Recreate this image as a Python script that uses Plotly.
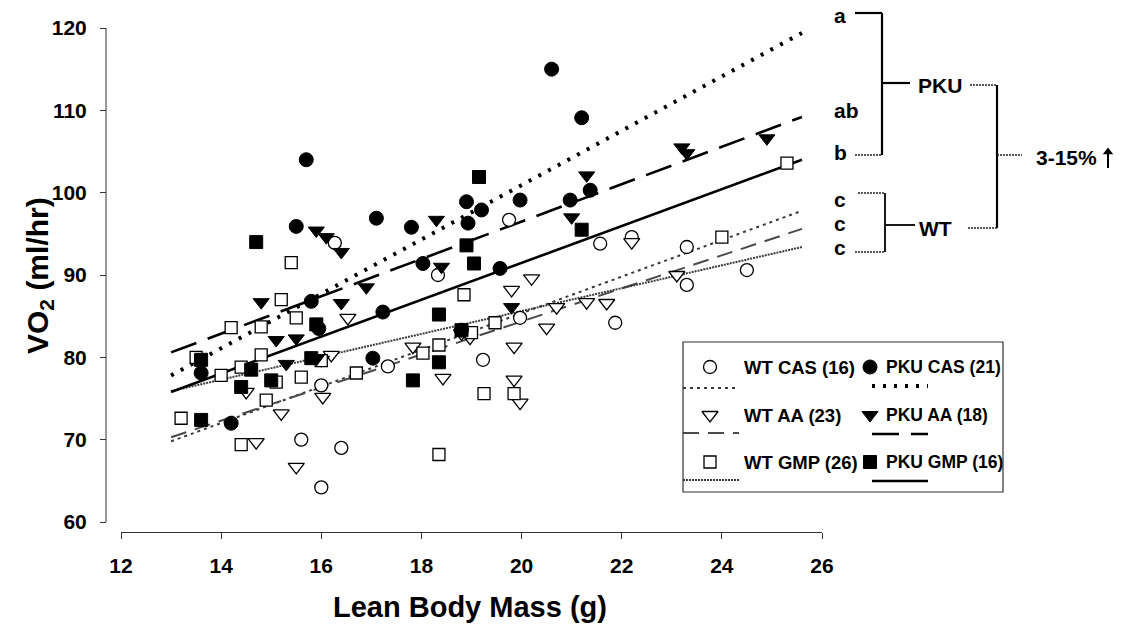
import plotly.graph_objects as go

FONT = "Liberation Sans, Arial, Helvetica, sans-serif"
W, H = 1125, 636

# ---------------- data ----------------
wt_cas_x = [16.27, 19.75, 18.33, 21.57, 19.97, 19.23, 17.33, 21.87, 22.2, 23.3, 24.5, 23.3, 15.6, 16.4, 16.0, 16.0]
wt_cas_y = [93.9, 96.7, 90.0, 93.8, 84.8, 79.7, 78.9, 84.2, 94.6, 93.4, 90.6, 88.8, 70.0, 69.0, 64.2, 76.6]

pku_cas_x = [20.6, 21.2, 15.7, 15.5, 15.8, 15.95, 17.1, 17.8, 18.9, 19.2, 18.93, 19.97, 20.97, 21.37,
             18.03, 19.57, 17.23, 17.03, 13.6, 14.2, 18.8]
pku_cas_y = [115.0, 109.1, 104.0, 95.9, 86.8, 83.5, 96.9, 95.8, 98.9, 97.9, 96.3, 99.1, 99.1, 100.3,
             91.4, 90.8, 85.5, 79.9, 78.1, 72.0, 83.3]

wt_aa_x = [20.2, 19.8, 21.3, 21.7, 20.7, 20.5, 19.85, 19.85, 19.97, 18.43, 18.97, 17.83, 16.53,
           16.03, 14.5, 14.7, 15.5, 15.2, 16.2, 16.0, 23.1, 22.2, 18.8]
wt_aa_y = [89.6, 88.2, 86.7, 86.6, 86.1, 83.6, 81.3, 77.3, 74.5, 77.5, 82.4, 81.3, 84.8,
           75.2, 75.8, 69.7, 66.7, 73.2, 80.3, 79.7, 90.0, 94.0, 82.9]

pku_aa_x = [15.9, 16.1, 16.4, 14.8, 16.4, 16.9, 15.1, 15.5, 21.3, 21.0, 18.3, 18.4, 19.8, 23.2, 23.3, 24.9, 15.3, 15.9]
pku_aa_y = [95.4, 94.6, 92.8, 86.7, 86.6, 88.5, 82.1, 82.3, 102.1, 97.0, 96.7, 91.0, 86.1, 105.5, 104.8, 106.6, 79.2, 79.8]

wt_gmp_x = [15.4, 15.2, 15.5, 14.2, 14.8, 13.5, 14.0, 14.4, 14.8, 15.1, 15.6, 14.9, 13.2, 14.4, 16.7,
            18.85, 19.47, 18.35, 18.03, 19.25, 19.85, 18.35, 24.0, 25.3, 16.0, 19.0]
wt_gmp_y = [91.5, 87.0, 84.8, 83.6, 83.7, 80.0, 77.8, 78.8, 80.3, 77.0, 77.6, 74.8, 72.6, 69.4, 78.1,
            87.6, 84.2, 81.5, 80.5, 75.6, 75.6, 68.2, 94.6, 103.6, 79.6, 83.0]

pku_gmp_x = [14.7, 19.15, 21.2, 18.9, 19.05, 18.35, 18.35, 17.83, 13.6, 13.6, 14.6, 14.4, 15.8, 18.8, 15.9, 15.0]
pku_gmp_y = [94.0, 101.9, 95.5, 93.6, 91.4, 85.2, 79.4, 77.2, 72.4, 79.7, 78.5, 76.4, 79.9, 83.3, 84.0, 77.2]

# regression lines: lean body mass span and fitted VO2 at both ends
fit_x = [13.0, 25.6]
fit_wt_cas = [69.8, 97.8]
fit_wt_aa = [70.3, 95.6]
fit_wt_gmp = [75.9, 93.4]
fit_pku_cas = [77.8, 119.4]
fit_pku_aa = [80.6, 109.2]
fit_pku_gmp = [75.8, 104.0]

x_ticks = [12, 14, 16, 18, 20, 22, 24, 26]
y_ticks = [60, 70, 80, 90, 100, 110, 120]

# ---------------- styles ----------------
line_styles = {
    "wt_cas": dict(color="#3a3a3a", width=2, dash="3px,4px"),
    "wt_aa": dict(color="#4a4a4a", width=2, dash="16px,9px"),
    "wt_gmp": dict(color="#3a3a3a", width=2, dash="2px,1px"),
    "pku_cas": dict(color="#000000", width=4, dash="3px,8px"),
    "pku_aa": dict(color="#000000", width=2.6, dash="27px,12px"),
    "pku_gmp": dict(color="#000000", width=2.6),
}
marker_styles = {
    "wt_cas": dict(symbol="circle", size=13, color="white", line=dict(color="black", width=1.3)),
    "wt_aa": dict(symbol="triangle-down", size=14, color="white", line=dict(color="black", width=1.3)),
    "wt_gmp": dict(symbol="square", size=12, color="white", line=dict(color="black", width=1.3)),
    "pku_cas": dict(symbol="circle", size=14, color="black", line=dict(color="black", width=1)),
    "pku_aa": dict(symbol="triangle-down", size=14, color="black", line=dict(color="black", width=1)),
    "pku_gmp": dict(symbol="square", size=13, color="black", line=dict(color="black", width=1)),
}

fig = go.Figure()

fits = [("wt_cas", fit_wt_cas), ("wt_aa", fit_wt_aa), ("wt_gmp", fit_wt_gmp),
        ("pku_gmp", fit_pku_gmp), ("pku_aa", fit_pku_aa), ("pku_cas", fit_pku_cas)]
for key, ys in fits:
    fig.add_trace(go.Scatter(x=fit_x, y=ys, mode="lines", line=line_styles[key],
                             hoverinfo="skip", showlegend=False))

groups = [("wt_cas", wt_cas_x, wt_cas_y), ("wt_aa", wt_aa_x, wt_aa_y), ("wt_gmp", wt_gmp_x, wt_gmp_y),
          ("pku_cas", pku_cas_x, pku_cas_y), ("pku_aa", pku_aa_x, pku_aa_y), ("pku_gmp", pku_gmp_x, pku_gmp_y)]
for key, xs, ys in groups:
    fig.add_trace(go.Scatter(x=xs, y=ys, mode="markers", marker=marker_styles[key],
                             cliponaxis=False, showlegend=False))

# ---------------- key box (drawn in a pixel frame: x2/y2) ----------------
legend_rows = [
    ("wt_cas", "WT CAS (16)", 710, 742, 367, 388),
    ("wt_aa", "WT AA (23)", 710, 742, 415, 433),
    ("wt_gmp", "WT GMP (26)", 710, 742, 462, 480),
    ("pku_cas", "PKU CAS (21)", 870, 884, 367, 386),
    ("pku_aa", "PKU AA (18)", 870, 884, 415, 434),
    ("pku_gmp", "PKU GMP (16)", 870, 884, 462, 481),
]
shapes = []
annotations = []
for key, label, mx, tx, ty, ly in legend_rows:
    fig.add_trace(go.Scatter(x=[mx], y=[ty], mode="markers", marker=marker_styles[key],
                             xaxis="x2", yaxis="y2", hoverinfo="skip", showlegend=False))
    is_wt = key.startswith("wt")
    annotations.append(dict(x=tx, y=ty, xref="x2", yref="y2", text=label, showarrow=False,
                            xanchor="left", yanchor="middle",
                            font=dict(family=FONT, size=18.5 if is_wt else 17.5, color="black")))
    x_start = mx - 27 if is_wt else mx + 2
    shapes.append(dict(type="line", xref="x2", yref="y2", x0=x_start, x1=x_start + 56,
                       y0=ly, y1=ly, line=line_styles[key]))

shapes.append(dict(type="rect", xref="x2", yref="y2", x0=683, x1=1003, y0=342, y1=492,
                   line=dict(color="#333333", width=1.2)))

# ---------------- significance brackets ----------------
def seg(x0, y0, x1, y1, width=2.2, dash=None, color="black"):
    ln = dict(color=color, width=width)
    if dash:
        ln["dash"] = dash
    shapes.append(dict(type="line", xref="x2", yref="y2", x0=x0, y0=y0, x1=x1, y1=y1, line=ln))

seg(855, 13, 882, 13)
seg(882, 13, 882, 155)
seg(855, 155, 882, 155, width=1.6, dash="2px,1px", color="#222")
seg(882, 83, 910, 83)
seg(970, 85, 997, 85, width=1.6, dash="2px,1px", color="#222")
seg(997, 85, 997, 228)
seg(858, 193, 885, 193, width=1.6, dash="2px,1px", color="#222")
seg(885, 193, 885, 252, width=1.8)
seg(855, 252, 885, 252, width=1.6, dash="2px,1px", color="#222")
seg(885, 225, 915, 225, width=1.8)
seg(968, 228, 997, 228, width=1.6, dash="2px,1px", color="#222")
seg(997, 155, 1022, 155, width=1.6, dash="2px,1px", color="#222")

# upward arrow after "3-15%"
seg(1108, 168, 1108, 153, width=2)
fig.add_trace(go.Scatter(x=[1108], y=[152], mode="markers", xaxis="x2", yaxis="y2",
                         marker=dict(symbol="triangle-up", size=9, color="black"),
                         hoverinfo="skip", showlegend=False))

side_labels = [("a", 832, 15), ("ab", 832, 110), ("b", 832, 152),
               ("c", 832, 199), ("c", 832, 223), ("c", 832, 247)]
for txt, x, y in side_labels:
    annotations.append(dict(x=x, y=y, xref="x2", yref="y2", text=txt, showarrow=False,
                            xanchor="left", yanchor="middle",
                            font=dict(family=FONT, size=21, color="black")))
for txt, x, y in [("PKU", 940, 85), ("WT", 935, 228), ("3-15%", 1066, 157)]:
    annotations.append(dict(x=x, y=y, xref="x2", yref="y2", text=txt, showarrow=False,
                            xanchor="center", yanchor="middle",
                            font=dict(family=FONT, size=21, color="black")))

# axis titles
annotations.append(dict(x=470, y=607, xref="x2", yref="y2", text="<b>Lean Body Mass (g)</b>",
                        showarrow=False, xanchor="center", yanchor="middle",
                        font=dict(family=FONT, size=29, color="black")))
annotations.append(dict(x=39, y=276, xref="x2", yref="y2", text="<b>VO<sub>2</sub> (ml/hr)</b>",
                        showarrow=False, textangle=-90, xanchor="center", yanchor="middle",
                        font=dict(family=FONT, size=30, color="black")))

# bold all plain text annotations
for a in annotations:
    if a.get("text") and not a["text"].startswith("<b>"):
        a["text"] = "<b>" + a["text"] + "</b>"

# axis frame in pixels: x 12..26 spans 121..822, y 60..120 spans 522..28,
# the x axis line sits 10 px below the y = 60 level (offset axes)
X0, X1 = 121, 822
Y60, Y120, XLINE, YLINE = 522, 28, 532, 106
px_per_unit = (Y60 - Y120) / (y_ticks[-1] - y_ticks[0])
y_low = y_ticks[0] - (XLINE - Y60) / px_per_unit

# y axis line from 60 to 120 only
shapes.append(dict(type="line", xref="paper", yref="y", x0=YLINE / W, x1=YLINE / W,
                   y0=y_ticks[0], y1=y_ticks[-1], line=dict(color="#333", width=1)))

tick_font = dict(family=FONT, size=21, color="black")

fig.update_layout(
    width=W, height=H, margin=dict(l=0, r=0, t=0, b=0),
    template="none", paper_bgcolor="white", plot_bgcolor="rgba(0,0,0,0)",
    showlegend=False, shapes=shapes, annotations=annotations,
    xaxis=dict(domain=[X0 / W, X1 / W], range=[12, 26], tickvals=x_ticks,
               ticktext=[f"<b>{v}</b>" for v in x_ticks],
               anchor="y", showgrid=False, zeroline=False,
               showline=True, linecolor="#333", linewidth=1, ticks="outside", ticklen=6,
               tickcolor="#333", tickfont=tick_font, ticklabelstandoff=9, automargin=False),
    yaxis=dict(domain=[1 - XLINE / H, 1 - Y120 / H], range=[y_low, 120], tickvals=y_ticks,
               ticktext=[f"<b>{v}</b>" for v in y_ticks],
               anchor="free", position=YLINE / W, showgrid=False, zeroline=False,
               showline=False, ticks="outside", ticklen=6,
               tickcolor="#333", tickfont=tick_font, ticklabelstandoff=9, automargin=False),
    xaxis2=dict(domain=[0, 1], range=[0, W], anchor="y2", visible=False, automargin=False),
    yaxis2=dict(domain=[0, 1], range=[H, 0], anchor="x2", visible=False, automargin=False),
)

fig.write_html("out.html")
